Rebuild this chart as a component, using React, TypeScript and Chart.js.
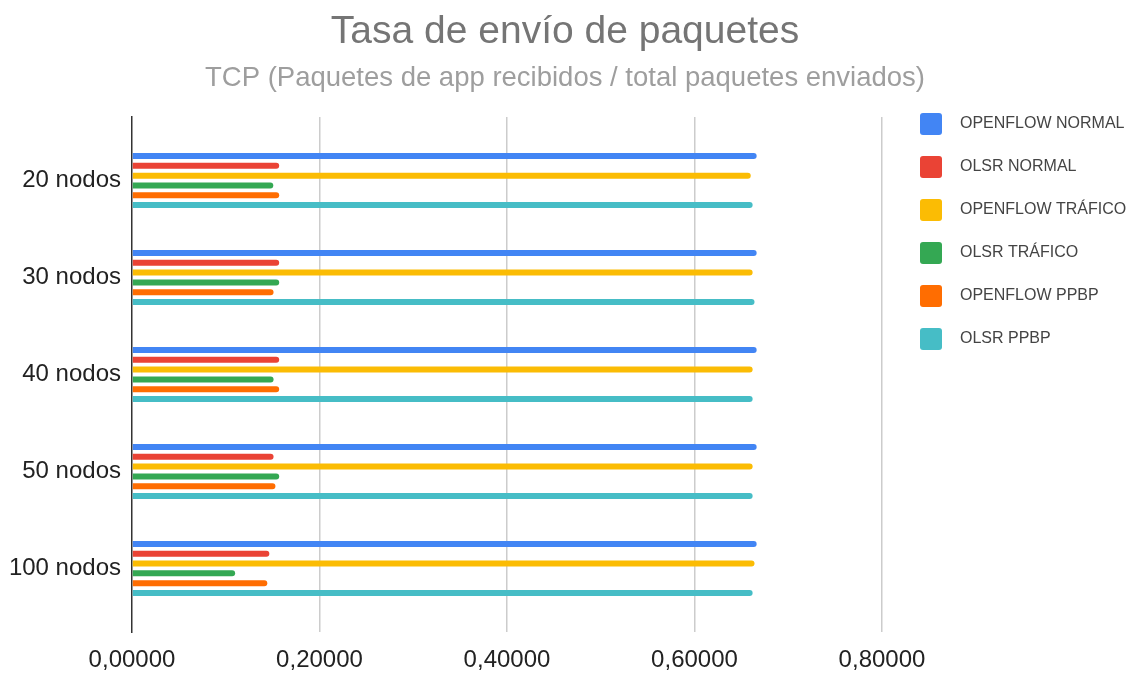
import React, { useEffect, useRef } from 'react';
import { Chart, registerables, layouts } from 'chart.js';

Chart.register(...registerables);

const categories = ['20 nodos', '30 nodos', '40 nodos', '50 nodos', '100 nodos'];
const seriesNames = ['OPENFLOW NORMAL', 'OLSR NORMAL', 'OPENFLOW TRÁFICO', 'OLSR TRÁFICO', 'OPENFLOW PPBP', 'OLSR PPBP'];
const seriesColors = ['#4285F4', '#EA4335', '#FBBC04', '#34A853', '#FF6D01', '#46BDC6'];

const openflowNormal = [0.6663, 0.6663, 0.6663, 0.6663, 0.6663];
const olsrNormal = [0.157, 0.157, 0.157, 0.151, 0.1465];
const openflowTrafico = [0.66, 0.662, 0.662, 0.662, 0.664];
const olsrTrafico = [0.1507, 0.157, 0.151, 0.157, 0.11];
const openflowPpbp = [0.157, 0.151, 0.157, 0.153, 0.1443];
const olsrPpbp = [0.662, 0.664, 0.662, 0.662, 0.662];

const seriesValues = [openflowNormal, olsrNormal, openflowTrafico, olsrTrafico, openflowPpbp, olsrPpbp];

const xMin = 0;
const xMax = 0.8;
const xStep = 0.2;

const FONT = '"Liberation Sans", Arial, sans-serif';

const sideLegend = {
  id: 'sideLegend',
  beforeInit(chart: any) {
    const box: any = {
      position: 'right',
      weight: 0,
      fullSize: false,
      options: { stackWeight: 1 },
      width: 248,
      height: 0,
      left: 0,
      top: 0,
      right: 0,
      bottom: 0,
      isHorizontal() {
        return false;
      },
      update(maxWidth: number, maxHeight: number) {
        box.width = 248;
        box.height = maxHeight;
      },
      draw() {},
    };
    layouts.addBox(chart, box);
  },
  afterDraw(chart: any) {
    const { ctx, chartArea } = chart;
    const x0 = chartArea.right + 38;
    const y0 = chartArea.top - 4;
    const box = 22;
    const step = 43;
    ctx.save();
    ctx.font = `16px ${FONT}`;
    ctx.textBaseline = 'middle';
    ctx.textAlign = 'left';
    chart.data.datasets.forEach((ds: any, i: number) => {
      const y = y0 + i * step;
      ctx.fillStyle = ds.backgroundColor;
      ctx.beginPath();
      (ctx as any).roundRect(x0, y, box, box, 3);
      ctx.fill();
      ctx.fillStyle = '#444444';
      ctx.fillText(ds.label, x0 + box + 18, y + box / 2);
    });
    ctx.restore();
  },
};

export default function App() {
  const ref = useRef<HTMLCanvasElement>(null);
  useEffect(() => {
    document.body.style.margin = '0';
    const datasets = seriesNames.map((name, k) => ({
      label: name,
      data: seriesValues[k].map((v, i) => ({ x: v, y: i })),
      backgroundColor: seriesColors[k],
      borderRadius: 3,
      borderSkipped: 'start' as const,
      categoryPercentage: 0.606,
      barPercentage: 0.612,
    }));
    const chart = new Chart(ref.current as HTMLCanvasElement, {
      type: 'bar',
      data: { datasets },
      plugins: [sideLegend],
      options: {
        animation: false,
        responsive: true,
        maintainAspectRatio: false,
        indexAxis: 'y',
        layout: { padding: 0 },
        plugins: {
          legend: { display: false },
          tooltip: { enabled: false },
          title: {
            display: true,
            text: 'Tasa de envío de paquetes',
            color: '#757575',
            font: { family: FONT, size: 39, weight: 'normal' },
            padding: { top: 8.5, bottom: 6.8 },
          },
          subtitle: {
            display: true,
            text: 'TCP (Paquetes de app recibidos / total paquetes enviados)',
            color: '#9e9e9e',
            font: { family: FONT, size: 27.5, weight: 'normal' },
            padding: { top: 0, bottom: 21.9 },
          },
        },
        scales: {
          x: {
            type: 'linear',
            min: xMin,
            max: xMax,
            ticks: {
              stepSize: xStep,
              color: '#222222',
              font: { family: FONT, size: 24 },
              padding: 14,
              callback: (v: any) => Number(v).toFixed(5).replace('.', ','),
            },
            grid: {
              color: (c: any) => (c.tick && c.tick.value === 0 ? 'rgba(0,0,0,0)' : '#cccccc'),
              lineWidth: 1.5,
              drawTicks: false,
            },
            border: { display: false },
            afterFit: (s: any) => {
              s.height = 41;
            },
          },
          y: {
            type: 'linear',
            reverse: true,
            offset: false,
            min: -0.655,
            max: categories.length - 1 + 0.655,
            ticks: {
              stepSize: 1,
              includeBounds: false,
              autoSkip: false,
              color: '#222222',
              font: { family: FONT, size: 24 },
              padding: 11,
              callback: (v: any) => (Number.isInteger(v) ? categories[v] : ''),
            },
            grid: { display: false, drawTicks: false, offset: false },
            border: { display: true, color: '#333333', width: 1.5 },
            afterFit: (s: any) => {
              s.width = 132;
            },
          },
        },
      },
    });
    return () => chart.destroy();
  }, []);
  return (
    <div style={{ width: 1130, height: 673, position: 'relative' }}>
      <canvas ref={ref} />
    </div>
  );
}
